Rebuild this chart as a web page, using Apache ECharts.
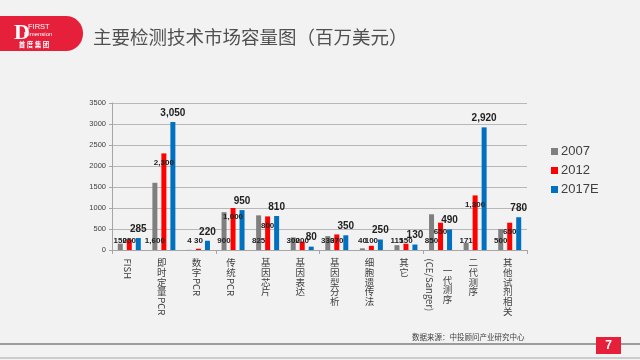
<!DOCTYPE html>
<html>
<head>
<meta charset="utf-8">
<script src="https://cdn.jsdelivr.net/npm/echarts@6/dist/echarts.min.js"></script>
<style>
html,body{margin:0;padding:0;background:#f2f2f2;}
#c{width:640px;height:360px;}
</style>
</head>
<body>
<div id="c"></div>
<script>
const categories = ['FISH','即时定量PCR','数字PCR','传统PCR','基因芯片','基因表达','基因型分析','细胞遗传法','其它','一代测序\n(CE/Sanger)','二代测序','其他试剂相关'];
const seriesNames = ['2007','2012','2017E'];
const v2007 = [150, 1600, 4, 900, 825, 300, 330, 40, 115, 850, 171, 500];
const v2012 = [250, 2300, 30, 1000, 800, 200, 370, 100, 150, 650, 1300, 650];
const v2017 = [285, 3050, 220, 950, 810, 80, 350, 250, 130, 490, 2920, 780];
const yTicks = [0, 500, 1000, 1500, 2000, 2500, 3000, 3500];

const titleText = '主要检测技术市场容量图（百万美元）';
const sourceText = '数据来源：中投顾问产业研究中心';
const pageNo = '7';

const colors = ['#7f7f7f', '#ff0000', '#0070c0'];
const CJK = '"Noto Sans CJK SC","Noto Sans",sans-serif';
const LBL = '"Liberation Sans",Arial,sans-serif';

const fmt = v => Number(v).toLocaleString('en-US');

const mctx = document.createElement('canvas').getContext('2d');
const xFontSize = 9.5;
const xFont = xFontSize + 'px ' + CJK;
mctx.font = xFont;
const isCJK = ch => /[\u3000-\u9fff\uff00-\uffef]/.test(ch);

function segmentsOf(line) {
  const segs = [];
  let run = '';
  for (const ch of line) {
    if (isCJK(ch)) {
      if (run) { segs.push({latin: true, t: run}); run = ''; }
      segs.push({latin: false, t: ch});
    } else run += ch;
  }
  if (run) segs.push({latin: true, t: run});
  return segs;
}
function segLen(s) { return s.latin ? mctx.measureText(s.t).width + 1.5 : 9.7; }

function renderXLabel(params, api) {
  const idx = api.value(0);
  const pt = api.coord([idx, 0]);
  const cx = pt[0] - 2;
  const top = pt[1] + 8;
  const lines = categories[idx].split('\n');
  const lens = lines.map(l => segmentsOf(l).reduce((a, s) => a + segLen(s), 0));
  const maxLen = Math.max(...lens);
  const colGap = 18;
  const n = lines.length;
  const children = [];
  lines.forEach((line, li) => {
    const colX = cx + ((n - 1) / 2 - li) * colGap;
    let y = top + (maxLen - lens[li]) / 2;
    segmentsOf(line).forEach(s => {
      if (s.latin) {
        children.push({
          type: 'text', x: colX, y: y + 0.5, rotation: -Math.PI / 2,
          style: {text: s.t, x: 0, y: 0, font: xFont, fill: '#404040', align: 'left', verticalAlign: 'middle'}
        });
      } else {
        children.push({
          type: 'text',
          style: {text: s.t, x: colX, y: y, font: xFont, fill: '#404040', align: 'center', verticalAlign: 'top'}
        });
      }
      y += segLen(s);
    });
  });
  return {type: 'group', children: children};
}

const chart = echarts.init(document.getElementById('c'));
chart.setOption({
  backgroundColor: '#f2f2f2',
  animation: false,
  title: {
    text: titleText, left: 88, top: 23,
    textStyle: {fontFamily: CJK, fontSize: 18.5, fontWeight: 'normal', color: '#505050'}
  },
  legend: {
    data: seriesNames, orient: 'vertical', left: 546, top: 140,
    itemWidth: 7, itemHeight: 7, itemGap: 6, icon: 'rect',
    textStyle: {fontFamily: LBL, fontSize: 13, color: '#404040', padding: [0, 0, 0, -2]}
  },
  grid: {left: 112, right: 113, top: 103, bottom: 110, containLabel: false},
  xAxis: {
    type: 'category', data: categories,
    axisLine: {lineStyle: {color: '#a6a6a6'}},
    axisTick: {show: true, length: 4, lineStyle: {color: '#a6a6a6'}},
    axisLabel: {show: false}
  },
  yAxis: {
    type: 'value', min: 0, max: 3500, interval: 500,
    axisLine: {show: true, lineStyle: {color: '#a6a6a6'}},
    axisTick: {show: true, length: 3, lineStyle: {color: '#a6a6a6'}},
    splitLine: {lineStyle: {color: '#b8b8b8', width: 1}},
    axisLabel: {
      fontFamily: LBL, fontSize: 7.5, color: '#404040', margin: 6,
      formatter: v => (yTicks.indexOf(v) >= 0 ? String(v) : '')
    }
  },
  series: [
    {
      name: seriesNames[0], type: 'bar', data: v2007, barWidth: 5, barGap: '80%',
      itemStyle: {color: colors[0]},
      label: {show: true, position: 'insideBottom', distance: 5, formatter: p => fmt(p.value),
        fontFamily: LBL, fontSize: 8, fontWeight: 'bold', color: '#222'}
    },
    {
      name: seriesNames[1], type: 'bar', barWidth: 5, barGap: '80%',
      data: v2012.map(v => ({value: v, label: {position: v >= 500 ? 'insideTop' : 'insideBottom'}})),
      itemStyle: {color: colors[1]},
      label: {show: true, distance: 5, formatter: p => fmt(p.value),
        fontFamily: LBL, fontSize: 8, fontWeight: 'bold', color: '#222'}
    },
    {
      name: seriesNames[2], type: 'bar', data: v2017, barWidth: 5, barGap: '80%',
      itemStyle: {color: colors[2]},
      label: {show: true, position: 'top', distance: 4, formatter: p => fmt(p.value),
        fontFamily: LBL, fontSize: 10, fontWeight: 'bold', color: '#222'}
    },
    {
      type: 'custom', silent: true, clip: false, legendHoverLink: false,
      data: categories.map((c, i) => [i, 0]),
      renderItem: renderXLabel, z: 5
    }
  ],
  graphic: [
    {type: 'rect', shape: {x: -20, y: 16, width: 103, height: 35, r: 17}, style: {fill: '#e6203a'}},
    {type: 'text', style: {text: 'D', x: 22, y: 33, font: 'bold 22px "Liberation Serif",serif', fill: '#fff', align: 'center', verticalAlign: 'middle'}},
    {type: 'text', style: {text: 'FIRST', x: 28, y: 26.5, font: '7.5px ' + LBL, fill: '#fff', verticalAlign: 'middle'}},
    {type: 'text', style: {text: 'Dimension', x: 24, y: 34.5, font: '6px ' + LBL, fill: '#fff', verticalAlign: 'middle'}},
    {type: 'text', style: {text: '首 度 集 团', x: 34, y: 44.5, font: 'bold 6.5px ' + CJK, fill: '#fff', align: 'center', verticalAlign: 'middle'}},
    {type: 'text', style: {text: sourceText, x: 412, y: 337, font: '7.5px ' + CJK, fill: '#404040', verticalAlign: 'middle'}},
    {type: 'line', shape: {x1: 0, y1: 344, x2: 640, y2: 344}, style: {stroke: '#7f7f7f', lineWidth: 1.5}},
    {type: 'line', shape: {x1: 0, y1: 358, x2: 640, y2: 358}, style: {stroke: '#a6a6a6', lineWidth: 1}},
    {type: 'rect', shape: {x: 596, y: 337, width: 25, height: 17}, style: {fill: '#e6203a'}, z: 10},
    {type: 'text', style: {text: pageNo, x: 608.5, y: 345.5, font: 'bold 12px ' + LBL, fill: '#fff', align: 'center', verticalAlign: 'middle'}, z: 11}
  ]
});
</script>
</body>
</html>
